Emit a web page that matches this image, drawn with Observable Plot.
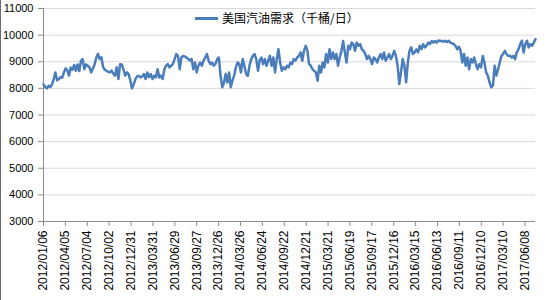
<!DOCTYPE html>
<html><head><meta charset="utf-8">
<script src="https://cdn.jsdelivr.net/npm/d3@7"></script>
<script src="https://cdn.jsdelivr.net/npm/@observablehq/plot@0.6"></script>
<style>
body{margin:0;background:#fff;}
#wrap{position:relative;width:550px;height:300px;overflow:hidden;background:#fff;}
#border{position:absolute;left:0;top:0;width:1px;height:300px;background:#6b6b6b;}
#legend{position:absolute;left:195px;top:10px;display:flex;align-items:center;font:12px "Noto Sans CJK SC",sans-serif;color:#000;line-height:16px;}
#legend .sw{display:inline-block;width:23px;height:3px;background:#4a7ebb;margin-right:4px;}
</style></head><body>
<div id="wrap"><div id="chart"></div><div id="legend"><span class="sw"></span><span id="legtext"></span></div><div id="border"></div></div>
<script>
const seriesName = "美国汽油需求（千桶/日）";
const startDate = "2012-01-06"; // weekly observations
const demand = [
8150,8050,8000,8100,8050,8150,8350,8600,8300,8350,
8420,8400,8600,8750,8680,8480,8780,8700,8880,8660,
8900,8650,9040,9100,8720,8900,8850,8790,8600,8750,
8900,9150,9300,9100,9170,8800,8700,8660,8620,8600,
8670,8550,8480,8790,8350,8910,8900,8700,8480,8600,
8540,8300,8000,8150,8350,8450,8470,8410,8450,8540,
8350,8600,8420,8540,8350,8470,8410,8720,8410,8480,
8350,8720,8850,8910,8790,8850,8910,9100,9290,9220,
8720,9160,9220,9200,9160,9100,9050,9100,8720,8970,
8600,8850,8970,8850,9040,9160,9290,9040,8910,8970,
8850,8920,9100,9160,8480,8040,8220,8540,8220,8600,
8040,8300,8480,8790,8980,8910,8600,9100,8850,8540,
8470,8850,9100,9220,9290,9100,8660,9050,9160,8910,
9100,8850,9040,9220,8850,9160,8600,9100,9470,8970,
8660,8790,8720,8850,8790,8970,8910,9100,9040,9160,
9220,9350,9040,9410,9600,9420,8910,8850,8720,8660,
8600,8290,8850,8600,8970,8790,9290,8970,9470,9100,
9350,9100,9290,8850,9160,9410,9780,9350,8970,9600,
9470,9720,9660,9410,9720,9600,9660,9470,9410,9290,
9100,9220,9100,8910,9160,9100,8970,9160,9290,9100,
9350,9040,9160,9290,9100,9220,9410,9220,8850,8160,
8600,9100,8850,8230,8970,9410,9540,9290,9350,9470,
9350,9600,9470,9660,9540,9600,9720,9660,9780,9720,
9780,9720,9800,9780,9790,9750,9790,9740,9790,9720,
9700,9660,9600,9470,9560,9410,8970,9290,8850,9160,
8720,9100,8970,9160,8910,8720,8910,8790,9220,8970,
8600,8480,8230,8040,8100,8850,8480,8720,8970,9220,
9290,9410,9290,9220,9230,9160,9220,9100,9350,9470,
9660,9790,9350,9660,9790,9540,9660,9600,9720,9850
];
const tickLabels = [
"2012/01/06","2012/04/05","2012/07/04","2012/10/02","2012/12/31",
"2013/03/31","2013/06/29","2013/09/27","2013/12/26","2014/03/26",
"2014/06/24","2014/09/22","2014/12/21","2015/03/21","2015/06/19",
"2015/09/17","2015/12/16","2016/03/15","2016/06/13","2016/09/11",
"2016/12/10","2017/03/10","2017/06/08"
];
const yTicks = [3000,4000,5000,6000,7000,8000,9000,10000,11000];

document.getElementById("legtext").textContent = seriesName;

const start = new Date(startDate);
const data = demand.map((v, i) => ({date: d3.utcDay.offset(start, 7 * i), value: v}));
const parse = d3.utcParse("%Y/%m/%d");
const tickDates = tickLabels.map(parse);
const fmt = d3.utcFormat("%Y/%m/%d");

const chart = Plot.plot({
  width: 550, height: 300,
  marginLeft: 43, marginRight: 15, marginTop: 8, marginBottom: 79,
  style: {fontFamily: "'Liberation Sans', Arial, sans-serif", fontSize: "11px", color: "#000", background: "#fff"},
  x: {type: "utc", domain: [data[0].date, data[data.length - 1].date]},
  y: {domain: [3000, 11000]},
  marks: [
    Plot.gridY(yTicks, {stroke: "#d9d9d9", strokeOpacity: 1}),
    Plot.ruleY([3000], {stroke: "#8c8c8c"}),
    Plot.ruleX([data[0].date], {stroke: "#8c8c8c"}),
    Plot.axisY(yTicks, {tickSize: 5, tickPadding: 5, stroke: "#8c8c8c", fill: "#000", tickFormat: "d", fontSize: 11, label: null}),
    Plot.axisX(tickDates, {tickSize: 5, tickPadding: 4, tickRotate: -90, stroke: "#8c8c8c", fill: "#000", tickFormat: fmt, fontSize: 12, label: null}),
    Plot.line(data, {x: "date", y: "value", stroke: "#4a7ebb", strokeWidth: 2.5})
  ]
});
document.getElementById("chart").appendChild(chart);
</script>
</body></html>
